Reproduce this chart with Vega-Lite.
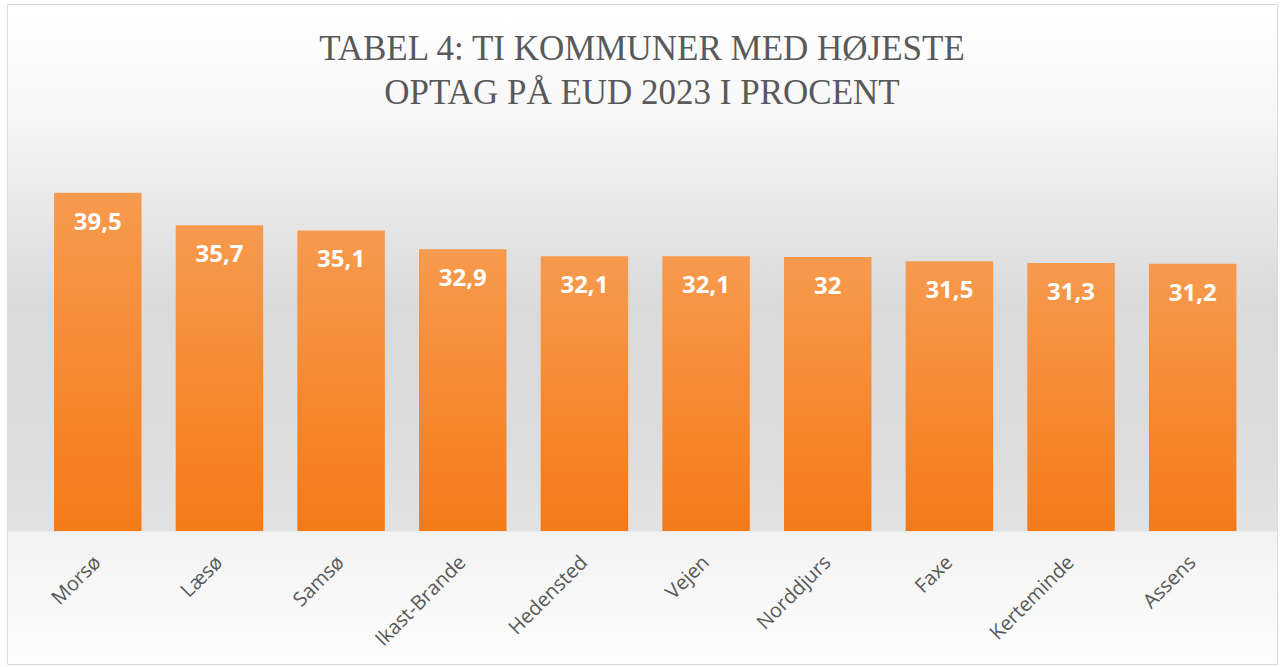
{
  "$schema": "https://vega.github.io/schema/vega-lite/v6.json",
  "width": 1270,
  "height": 660,
  "autosize": {"type": "none"},
  "padding": {"left": 7, "top": 4, "right": 5, "bottom": 3},
  "background": "#ffffff",
  "config": {
    "view": {
      "stroke": "#d9d9d9",
      "strokeWidth": 1,
      "fill": {
        "gradient": "linear", "x1": 0, "y1": 0, "x2": 0, "y2": 1,
        "stops": [
          {"offset": 0, "color": "#ffffff"},
          {"offset": 0.15, "color": "#f8f8f8"},
          {"offset": 0.3, "color": "#e9e9e9"},
          {"offset": 0.45, "color": "#dadada"},
          {"offset": 0.65, "color": "#dcdcdc"},
          {"offset": 0.797, "color": "#e2e2e2"},
          {"offset": 0.8, "color": "#f2f2f2"},
          {"offset": 0.9, "color": "#f8f8f8"},
          {"offset": 1, "color": "#fdfdfd"}
        ]
      }
    }
  },
  "title": {
    "text": ["TABEL 4: TI KOMMUNER MED HØJESTE", "OPTAG PÅ EUD 2023 I PROCENT"],
    "font": "Liberation Serif",
    "fontSize": 35,
    "fontWeight": "normal",
    "color": "#595959",
    "anchor": "middle",
    "frame": "group",
    "baseline": "top",
    "offset": -31,
    "dy": 76,
    "lineHeight": 44
  },
  "data": {
    "values": [
      {"kommune": "Morsø", "pct": 39.5},
      {"kommune": "Læsø", "pct": 35.7},
      {"kommune": "Samsø", "pct": 35.1},
      {"kommune": "Ikast-Brande", "pct": 32.9},
      {"kommune": "Hedensted", "pct": 32.1},
      {"kommune": "Vejen", "pct": 32.1},
      {"kommune": "Norddjurs", "pct": 32},
      {"kommune": "Faxe", "pct": 31.5},
      {"kommune": "Kerteminde", "pct": 31.3},
      {"kommune": "Assens", "pct": 31.2}
    ]
  },
  "layer": [
    {
      "mark": {
        "type": "bar",
        "color": {
          "gradient": "linear", "x1": 0, "y1": 0, "x2": 0, "y2": 1,
          "stops": [
            {"offset": 0, "color": "#f79a4e"},
            {"offset": 1, "color": "#f47a18"}
          ]
        }
      },
      "encoding": {
        "x": {
          "field": "kommune", "type": "nominal", "sort": null,
          "scale": {"paddingInner": 0.281, "paddingOuter": 0.36, "align": 0.537},
          "axis": {
            "title": null, "orient": "bottom", "offset": -133, "domain": false, "ticks": false,
            "labelAngle": -45, "labelAlign": "right", "labelBaseline": "middle",
            "labelPadding": 28, "labelFont": "Open Sans", "labelFontSize": 20, "labelColor": "#595959"
          }
        },
        "y": {
          "field": "pct", "type": "quantitative",
          "scale": {"domain": [-15.53, 61.55], "nice": false, "zero": false},
          "axis": null
        }
      }
    },
    {
      "transform": [
        {"calculate": "replace(format(datum.pct, '~g'), '.', ',')", "as": "label"}
      ],
      "mark": {"type": "text", "dy": 30, "baseline": "middle", "align": "center", "font": "Open Sans", "fontWeight": "bold", "fontSize": 24, "color": "#ffffff"},
      "encoding": {
        "x": {"field": "kommune", "type": "nominal", "sort": null},
        "y": {"field": "pct", "type": "quantitative"},
        "text": {"field": "label", "type": "nominal"}
      }
    }
  ]
}
